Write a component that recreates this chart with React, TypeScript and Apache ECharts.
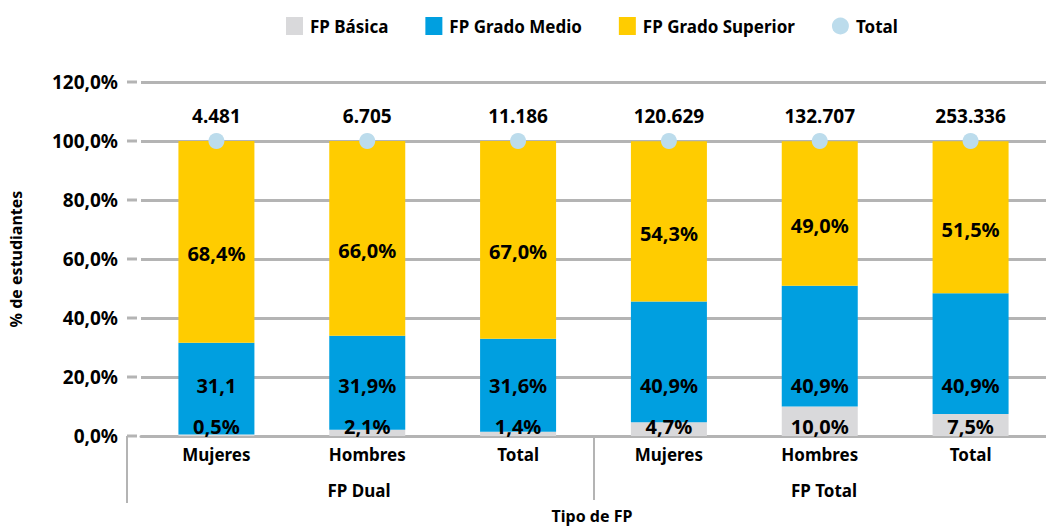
import React, { useEffect, useRef } from "react";
import * as echarts from "echarts";

const categories = ["Mujeres", "Hombres", "Total", "Mujeres", "Hombres", "Total"];
const groupLabels = ["FP Dual", "FP Total"];
const basica = [0.5, 2.1, 1.4, 4.7, 10.0, 7.5];
const medio = [31.1, 31.9, 31.6, 40.9, 40.9, 40.9];
const medioLabels = ["31,1", "31,9%", "31,6%", "40,9%", "40,9%", "40,9%"];
const superior = [68.4, 66.0, 67.0, 54.3, 49.0, 51.5];
const totalPct = [100, 100, 100, 100, 100, 100];
const totals = [4481, 6705, 11186, 120629, 132707, 253336];
const yTicks = [0, 20, 40, 60, 80, 100, 120];

const FONT = "'Noto Sans', 'DejaVu Sans', sans-serif";
const GRID_LEFT = 137;
const GRID_TOP = 82;
const GRID_H = 354;
const Y_MAX = 120;
const PX = GRID_H / Y_MAX;
const MEDIO_LABEL_AT = 16.95;
const BASICA_LABEL_AT = 3.15;
const LINE_START = 127;

const pct = (v: number) => v.toFixed(1).replace(".", ",") + "%";
const thousands = (v: number) => String(v).replace(/\B(?=(\d{3})+(?!\d))/g, ".");

export default function App() {
  const ref = useRef<HTMLDivElement>(null);
  useEffect(() => {
    if (!ref.current) return;
    const chart = echarts.init(ref.current, undefined, { renderer: "svg" });
    const labelBase = { color: "#000", fontFamily: FONT, fontWeight: "bold" as const, fontSize: 20 };
    const gridExt = yTicks.map((v) => {
      const y = GRID_TOP + GRID_H - v * PX;
      return {
        type: "line",
        shape: { x1: LINE_START, y1: y, x2: GRID_LEFT, y2: y },
        style: { stroke: "#b4b4b4", lineWidth: 3 },
      };
    });
    const option = {
      animation: false,
      backgroundColor: "#fff",
      textStyle: { fontFamily: FONT },
      legend: {
        top: 12,
        left: 281,
        itemWidth: 17,
        itemHeight: 18,
        itemGap: 37,
        textStyle: { fontFamily: FONT, fontWeight: "bold", fontSize: 17, color: "#000", padding: [0, 0, 0, 2] },
        data: [
          { name: "FP Básica", icon: "rect" },
          { name: "FP Grado Medio", icon: "rect" },
          { name: "FP Grado Superior", icon: "rect" },
          { name: "Total", icon: "circle" },
        ],
      },
      grid: { left: GRID_LEFT, top: GRID_TOP, width: 916, height: GRID_H, containLabel: false },
      xAxis: {
        type: "category",
        data: categories,
        axisLine: { lineStyle: { color: "#b4b4b4", width: 3 } },
        axisTick: { show: false },
        axisLabel: { color: "#000", fontFamily: FONT, fontWeight: "bold", fontSize: 17, margin: 10 },
      },
      yAxis: {
        type: "value",
        min: 0,
        max: Y_MAX,
        interval: 20,
        name: "% de estudiantes",
        nameLocation: "middle",
        nameGap: 117,
        nameRotate: 90,
        nameTextStyle: { color: "#000", fontFamily: FONT, fontWeight: "bold", fontSize: 16 },
        axisLine: { show: false },
        axisTick: { show: false },
        axisLabel: { color: "#000", fontFamily: FONT, fontWeight: "bold", fontSize: 19, margin: 23, formatter: (v: number) => pct(v) },
        splitLine: { lineStyle: { color: "#b4b4b4", width: 3 } },
      },
      series: [
        {
          name: "FP Básica",
          type: "bar",
          stack: "s",
          barWidth: 76,
          itemStyle: { color: "#d9d9db" },
          data: basica.map((v) => ({
            value: v,
            label: { show: true, position: "inside", offset: [0, (v / 2 - BASICA_LABEL_AT) * PX], formatter: pct(v), ...labelBase },
          })),
        },
        {
          name: "FP Grado Medio",
          type: "bar",
          stack: "s",
          barWidth: 76,
          itemStyle: { color: "#009fe0" },
          data: medio.map((v, i) => ({
            value: v,
            label: {
              show: true,
              position: "inside",
              offset: [0, (basica[i] + v / 2 - MEDIO_LABEL_AT) * PX],
              formatter: medioLabels[i],
              ...labelBase,
            },
          })),
        },
        {
          name: "FP Grado Superior",
          type: "bar",
          stack: "s",
          barWidth: 76,
          itemStyle: { color: "#ffcc00" },
          label: { show: true, position: "inside", offset: [0, 12], formatter: (p: any) => pct(p.value), ...labelBase },
          data: superior,
        },
        {
          name: "Total",
          type: "scatter",
          symbol: "circle",
          symbolSize: 16,
          itemStyle: { color: "#bcdcec", opacity: 1 },
          z: 5,
          label: {
            show: true,
            position: "top",
            distance: 8,
            formatter: (p: any) => thousands(totals[p.dataIndex]),
            ...labelBase,
            fontSize: 19,
          },
          data: totalPct,
        },
      ],
      graphic: [
        ...gridExt,
        { type: "line", shape: { x1: LINE_START, y1: 436, x2: LINE_START, y2: 503 }, style: { stroke: "#b4b4b4", lineWidth: 2 } },
        { type: "line", shape: { x1: 594, y1: 436, x2: 594, y2: 500 }, style: { stroke: "#b4b4b4", lineWidth: 2 } },
        {
          type: "text",
          x: 359,
          y: 490,
          style: { text: groupLabels[0], font: `bold 17px ${FONT}`, fill: "#000", align: "center", verticalAlign: "middle" },
        },
        {
          type: "text",
          x: 824,
          y: 490,
          style: { text: groupLabels[1], font: `bold 17px ${FONT}`, fill: "#000", align: "center", verticalAlign: "middle" },
        },
        {
          type: "text",
          x: 592,
          y: 516,
          style: { text: "Tipo de FP", font: `bold 16px ${FONT}`, fill: "#000", align: "center", verticalAlign: "middle" },
        },
      ],
    };
    chart.setOption(option as any);
    return () => chart.dispose();
  }, []);
  return <div ref={ref} style={{ position: "fixed", left: 0, top: 0, width: 1046, height: 526, background: "#fff" }} />;
}
